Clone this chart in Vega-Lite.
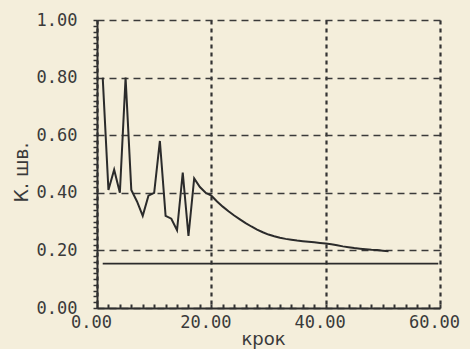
{
  "$schema": "https://vega.github.io/schema/vega-lite/v6.json",
  "width": 343,
  "height": 288,
  "autosize": "none",
  "padding": {"left": 97, "top": 20, "right": 30, "bottom": 41},
  "background": "#f4eedb",
  "config": {"view": {"stroke": null}},
  "datasets": {
    "main": [
      {"k": 1, "v": 0.80}, {"k": 2, "v": 0.41}, {"k": 3, "v": 0.48}, {"k": 4, "v": 0.40},
      {"k": 5, "v": 0.80}, {"k": 6, "v": 0.41}, {"k": 7, "v": 0.37}, {"k": 8, "v": 0.32},
      {"k": 9, "v": 0.39}, {"k": 10, "v": 0.40}, {"k": 11, "v": 0.58}, {"k": 12, "v": 0.32},
      {"k": 13, "v": 0.31}, {"k": 14, "v": 0.27}, {"k": 15, "v": 0.47}, {"k": 16, "v": 0.25},
      {"k": 17, "v": 0.45}, {"k": 18, "v": 0.42}, {"k": 19, "v": 0.40}, {"k": 20, "v": 0.39},
      {"k": 21, "v": 0.370}, {"k": 22, "v": 0.352}, {"k": 23, "v": 0.336}, {"k": 24, "v": 0.321},
      {"k": 25, "v": 0.308}, {"k": 26, "v": 0.295}, {"k": 27, "v": 0.283}, {"k": 28, "v": 0.272},
      {"k": 29, "v": 0.263}, {"k": 30, "v": 0.255}, {"k": 31, "v": 0.249}, {"k": 32, "v": 0.244},
      {"k": 33, "v": 0.240}, {"k": 34, "v": 0.237}, {"k": 35, "v": 0.234}, {"k": 36, "v": 0.232},
      {"k": 37, "v": 0.230}, {"k": 38, "v": 0.228}, {"k": 39, "v": 0.226}, {"k": 40, "v": 0.224},
      {"k": 41, "v": 0.221}, {"k": 42, "v": 0.218}, {"k": 43, "v": 0.214}, {"k": 44, "v": 0.211},
      {"k": 45, "v": 0.208}, {"k": 46, "v": 0.206}, {"k": 47, "v": 0.204}, {"k": 48, "v": 0.202},
      {"k": 49, "v": 0.201}, {"k": 50, "v": 0.199}, {"k": 51, "v": 0.197}
    ],
    "ref": [
      {"k": 1, "v": 0.154}, {"k": 59.7, "v": 0.154}
    ]
  },
  "layer": [
    {
      "data": {"name": "main"},
      "mark": {"type": "line", "color": "#2b2b2b", "strokeWidth": 2},
      "encoding": {
        "x": {
          "field": "k", "type": "quantitative",
          "scale": {"domain": [0, 60], "nice": false, "zero": false},
          "axis": {
            "values": [0, 20, 40, 60], "format": ".2f",
            "grid": true, "gridDash": [4, 4], "gridWidth": 2.2, "gridColor": "#333333", "gridOpacity": 1,
            "ticks": false, "tickSize": 0,
            "domain": true, "domainColor": "#2e2e2e", "domainWidth": 2,
            "labelFont": "DejaVu Sans Mono", "labelFontSize": 17, "labelColor": "#3a3a3a",
            "labelPadding": 6, "labelOffset": -6, "labelFlush": false,
            "title": "крок", "titleFont": "DejaVu Sans", "titleFontSize": 18, "titleFontWeight": "normal",
            "titleColor": "#3a3a3a", "titleX": 166, "titleY": 36, "titleBaseline": "alphabetic", "titleAlign": "center"
          }
        },
        "y": {
          "field": "v", "type": "quantitative",
          "scale": {"domain": [0, 1], "nice": false},
          "axis": {
            "values": [0, 0.2, 0.4, 0.6, 0.8, 1.0], "format": ".2f",
            "grid": true, "gridDash": [7, 5], "gridWidth": 1.4, "gridColor": "#3a3a3a", "gridOpacity": 1,
            "ticks": false, "tickSize": 0,
            "domain": true, "domainColor": "#2e2e2e", "domainWidth": 2,
            "labelFont": "DejaVu Sans Mono", "labelFontSize": 17, "labelColor": "#3a3a3a",
            "labelPadding": 20, "labelFlush": false,
            "title": "К. шв.", "titleFont": "DejaVu Sans", "titleFontSize": 19, "titleFontWeight": "normal",
            "titleColor": "#3a3a3a", "titleAngle": -90, "titleX": -70, "titleY": 152,
            "titleBaseline": "alphabetic", "titleAlign": "center"
          }
        }
      }
    },
    {
      "data": {"name": "ref"},
      "mark": {"type": "line", "color": "#2b2b2b", "strokeWidth": 1.8},
      "encoding": {
        "x": {
          "field": "k", "type": "quantitative",
          "scale": {"domain": [0, 60], "nice": false, "zero": false},
          "axis": {
            "orient": "bottom",
            "values": [0, 2, 4, 6, 8, 10, 12, 14, 16, 18, 20, 22, 24, 26, 28, 30, 32, 34, 36, 38, 40, 42, 44, 46, 48, 50, 52, 54, 56, 58, 60],
            "labels": false, "domain": false, "grid": false,
            "ticks": true, "tickSize": -4, "tickWidth": 2, "tickColor": "#333333", "title": null
          }
        },
        "y": {
          "field": "v", "type": "quantitative",
          "scale": {"domain": [0, 1], "nice": false},
          "axis": {
            "orient": "left",
            "values": [0, 0.02, 0.04, 0.06, 0.08, 0.1, 0.12, 0.14, 0.16, 0.18, 0.2, 0.22, 0.24, 0.26, 0.28, 0.3, 0.32, 0.34, 0.36, 0.38, 0.4, 0.42, 0.44, 0.46, 0.48, 0.5, 0.52, 0.54, 0.56, 0.58, 0.6, 0.62, 0.64, 0.66, 0.68, 0.7, 0.72, 0.74, 0.76, 0.78, 0.8, 0.82, 0.84, 0.86, 0.88, 0.9, 0.92, 0.94, 0.96, 0.98, 1.0],
            "labels": false, "domain": false, "grid": false,
            "ticks": true, "tickSize": 4, "tickWidth": 1.5, "tickColor": "#333333", "title": null
          }
        }
      }
    }
  ],
  "resolve": {"axis": {"x": "independent", "y": "independent"}}
}
